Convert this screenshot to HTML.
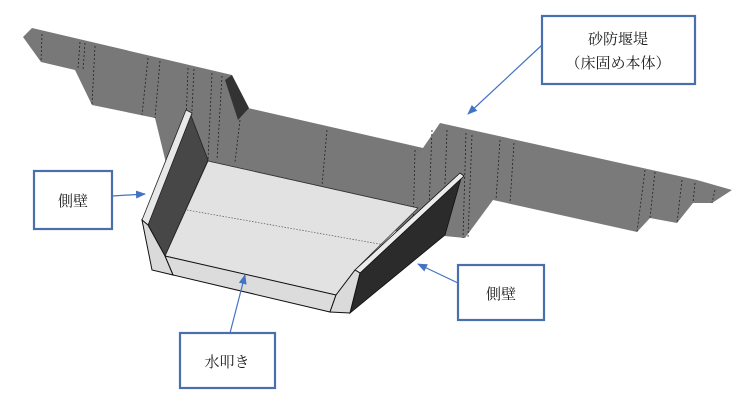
<!DOCTYPE html>
<html><head><meta charset="utf-8"><style>
html,body{margin:0;padding:0;background:#fff;width:737px;height:402px;overflow:hidden}
svg{display:block}
text{font-family:"Liberation Serif","Noto Serif CJK SC","Noto Sans CJK JP",serif;fill:#222}
</style></head><body>
<svg width="737" height="402" viewBox="0 0 737 402" xmlns="http://www.w3.org/2000/svg">
<defs><marker id="a" markerWidth="10" markerHeight="8" refX="9" refY="4" orient="auto" markerUnits="userSpaceOnUse"><path d="M0,0 L10,4 L0,8 z" fill="#4472c4"/></marker></defs>
<polygon points="23,37 32,28 232,75 240,110 248,108 423,148 423,235 175,200 155,118 92,105 75,70 41,62" fill="#787878"/>
<polygon points="225,80 232,75 249,108 238,120" fill="#333"/>
<polygon points="423,148 440,123 697,180 732,190 712,203 693,203 677,223 650,218 637,232 493,200 465,238 413,233 413,160" fill="#7a7a7a"/>
<g stroke="#222" stroke-width="0.8" stroke-dasharray="2,2" fill="none">
<line x1="42" y1="34" x2="41" y2="62"/><line x1="80" y1="42" x2="78" y2="68"/><line x1="85" y1="43" x2="83" y2="70"/><line x1="95" y1="46" x2="92" y2="104"/>
<line x1="148" y1="58" x2="142" y2="115"/><line x1="160" y1="61" x2="155" y2="118"/><line x1="188" y1="68" x2="185" y2="150"/><line x1="194" y1="69" x2="190" y2="150"/><line x1="212" y1="73" x2="208" y2="160"/><line x1="222" y1="76" x2="217" y2="160"/>
<line x1="240" y1="120" x2="235" y2="162"/><line x1="327" y1="130" x2="322" y2="186"/>
<line x1="415" y1="150" x2="413" y2="233"/><line x1="432" y1="130" x2="428" y2="235"/><line x1="447" y1="130" x2="443" y2="238"/><line x1="466" y1="133" x2="463" y2="238"/><line x1="472" y1="135" x2="468" y2="238"/>
<line x1="500" y1="140" x2="496" y2="200"/><line x1="514" y1="143" x2="510" y2="203"/>
<line x1="645" y1="170" x2="637" y2="232"/><line x1="655" y1="172" x2="650" y2="218"/><line x1="682" y1="180" x2="677" y2="223"/><line x1="695" y1="183" x2="693" y2="203"/><line x1="715" y1="190" x2="712" y2="203"/>
</g>
<polygon points="208,161 418,208 355,270 336,295 165,256" fill="#e2e2e2" stroke="#333" stroke-width="0.8"/>
<line x1="187" y1="210" x2="385" y2="245" stroke="#555" stroke-width="0.7" stroke-dasharray="1.5,1.5"/>
<line x1="208" y1="161" x2="418" y2="208" stroke="#333" stroke-width="0.7" stroke-dasharray="1.5,1.5"/>
<polygon points="165,256 336,295 330,312 173,275" fill="#dcdcdc" stroke="#111" stroke-width="1"/>
<polygon points="148,225 190,113 208,160 165,256" fill="#474747" stroke="#222" stroke-width="0.8"/>
<polygon points="142,220 186,110 192,113 148,225" fill="#e8e8e8" stroke="#222" stroke-width="0.8"/>
<polygon points="142,220 148,225 165,256 173,275 152,270" fill="#dadada" stroke="#111" stroke-width="1"/>
<polygon points="360,272 462,175 445,235 350,313" fill="#2b2b2b" stroke="#111" stroke-width="0.8"/>
<polygon points="355,270 460,173 464,176 360,273" fill="#ececec" stroke="#111" stroke-width="0.8"/>
<polygon points="336,295 355,270 360,273 350,313 330,312" fill="#dadada" stroke="#111" stroke-width="1"/>
<g fill="#fff" stroke="#4a6fae" stroke-width="2.2">
<rect x="542" y="16" width="153" height="68"/>
<rect x="34" y="171" width="78" height="58"/>
<rect x="458" y="265" width="86" height="55"/>
<rect x="180" y="333" width="95" height="55"/>
</g>
<g stroke="#4472c4" stroke-width="1.2" fill="none" marker-end="url(#a)">
<line x1="542" y1="45" x2="468" y2="114"/>
<line x1="112" y1="196" x2="145" y2="194"/>
<line x1="458" y1="283" x2="418" y2="264"/>
<line x1="230" y1="333" x2="245" y2="275"/>
</g>
<g font-size="15" text-anchor="middle">
<text x="618" y="44">砂防堰堤</text>
<text x="618" y="68">（床固め本体）</text>
<text x="73" y="206">側壁</text>
<text x="501" y="299">側壁</text>
<text x="227" y="367">水叩き</text>
</g>
</svg>
</body></html>
